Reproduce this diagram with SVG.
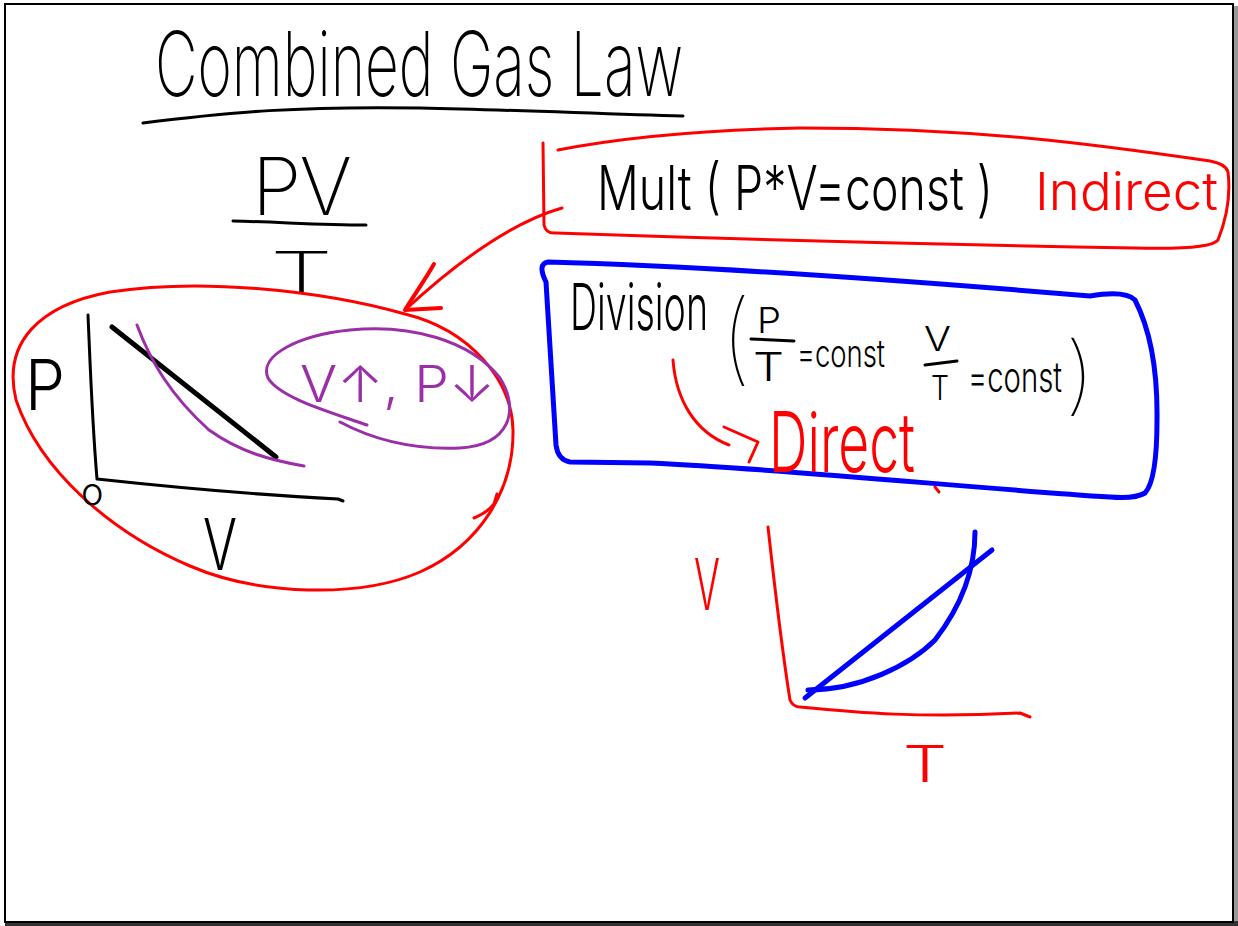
<svg xmlns="http://www.w3.org/2000/svg" width="1238" height="926" viewBox="0 0 1238 926">
<defs>
<style>
.hw{font-family:Inter,"Open Sans","DejaVu Sans",sans-serif;font-weight:200}
.lt{font-weight:300}
.th{font-weight:100}
.k{fill:#000}.r{fill:#ff0000}.b{fill:#0000ff}.p{fill:#9a2fa8}
.sk{fill:none;stroke:#000;stroke-width:3;stroke-linecap:round;stroke-linejoin:round}
.sr{fill:none;stroke:#ff0000;stroke-width:3;stroke-linecap:round;stroke-linejoin:round}
.sb{fill:none;stroke:#0000ff;stroke-width:5;stroke-linecap:round;stroke-linejoin:round}
.sp{fill:none;stroke:#9a2fa8;stroke-width:3;stroke-linecap:round;stroke-linejoin:round}
</style>
</defs>
<rect x="0" y="0" width="1238" height="926" fill="#ffffff"/>
<g id="frame">
<rect x="1233" y="6" width="5" height="920" fill="#9a9a9a"/>
<rect x="5" y="921" width="1233" height="5" fill="#333333"/>
<rect x="5" y="4" width="1228" height="918" fill="#ffffff" stroke="#000" stroke-width="2"/>
</g>
<g id="title">
<text class="hw k" x="155" y="96" font-size="90" textLength="528" lengthAdjust="spacingAndGlyphs">Combined Gas Law</text>
<path class="sk" d="M143 123 C230 112 300 106 420 108 C520 110 600 114 683 116"/>
</g>
<g id="formula">
<text class="hw k" x="252" y="215" font-size="80" textLength="100" lengthAdjust="spacing">PV</text>
<path class="sk" d="M233 221 C280 222 320 225 366 225"/>
<text class="hw k" x="270" y="292" font-size="56" textLength="63" lengthAdjust="spacingAndGlyphs">T</text>
</g>
<g id="pv-graph">
<path class="sr" d="M405 314 C470 330 512 380 513 430 C514 490 480 545 420 572 C360 598 260 596 190 566 C110 532 40 470 16 400 C2 342 40 305 110 292 C200 278 320 290 405 314"/>
<path class="sr" d="M474 518 Q488 512 494 504 L497 494"/>
<path class="sk" d="M88 315 C90 360 92 420 97 479 C180 488 260 495 338 499 L343 501"/>
<path fill="none" stroke="#000" stroke-width="5" stroke-linecap="round" d="M112 327 L276 457"/>
<path class="sp" d="M137 325 C150 360 170 395 209 430 C240 452 270 460 304 466"/>
<text class="hw lt k" x="25" y="410" font-size="70" textLength="40" lengthAdjust="spacingAndGlyphs">P</text>
<text class="hw lt k" x="81" y="505" font-size="38">o</text>
<text class="hw lt k" x="203" y="570" font-size="72" textLength="34" lengthAdjust="spacingAndGlyphs">V</text>
<path class="sp" d="M367 425 C330 412 280 398 268 378 C258 355 300 335 350 330 C410 324 470 340 500 378 C520 410 510 445 460 448 C410 450 370 438 340 422"/>
<text class="hw lt p" x="300" y="402" font-size="50" textLength="195" lengthAdjust="spacingAndGlyphs">V↑, P↓</text>
</g>
<g id="mult-box">
<path class="sr" d="M543 143 L544 225 Q546 234 556 233 C700 238 900 244 1135 248 Q1210 250 1218 240 Q1232 205 1228 172 Q1226 164 1210 161 C1100 145 980 128 800 128 C700 130 620 138 558 150"/>
<text class="hw lt k" font-size="47" transform="translate(597,210) scale(1,1.3)" x="0" y="0" textLength="396" lengthAdjust="spacingAndGlyphs">Mult ( P*V=const )</text>
<text class="hw lt r" x="1035" y="210" font-size="52" textLength="183" lengthAdjust="spacingAndGlyphs">Indirect</text>
</g>
<g id="connectors">
<path class="sr" d="M562 208 C520 220 470 250 405 310"/>
<path fill="none" stroke="#ff0000" stroke-width="4" stroke-linecap="round" stroke-linejoin="round" d="M434 264 C425 280 414 295 405 310 L441 308"/>
<path class="sr" d="M673 360 C676 400 695 432 729 445"/>
<path class="sr" d="M724 427 L758 442 L749 462"/>
</g>
<g id="division-box">
<path class="sb" d="M546 282 Q537 264 548 262 C700 266 900 280 1090 296 Q1125 290 1135 300 Q1158 345 1157 420 Q1157 480 1145 493 Q1135 499 1110 497 C980 489 800 470 650 463 L570 462 Q558 460 556 445 L546 282"/>
<text class="hw lt k" font-size="38" transform="translate(570,330) scale(1,1.7)" x="0" y="0" textLength="138" lengthAdjust="spacingAndGlyphs">Division</text>
<text class="hw th k" x="721" y="372" font-size="100" textLength="30" lengthAdjust="spacingAndGlyphs">(</text>
<text class="hw lt k" x="757" y="333" font-size="36" textLength="24" lengthAdjust="spacingAndGlyphs">P</text>
<path class="sk" d="M751 339 L794 341"/>
<text class="hw lt k" x="753" y="381" font-size="40" textLength="31" lengthAdjust="spacingAndGlyphs">T</text>
<text class="hw lt k" font-size="28" transform="translate(797,367) scale(1,1.35)" x="0" y="0" textLength="88" lengthAdjust="spacingAndGlyphs">=const</text>
<text class="hw lt k" x="924" y="351" font-size="34" textLength="27" lengthAdjust="spacingAndGlyphs">V</text>
<path class="sk" d="M925 365 L957 361"/>
<text class="hw lt k" x="931" y="400" font-size="34" textLength="18" lengthAdjust="spacingAndGlyphs">T</text>
<text class="hw lt k" font-size="30" transform="translate(968,392) scale(1,1.4)" x="0" y="0" textLength="94" lengthAdjust="spacingAndGlyphs">=const</text>
<text class="hw th k" x="1064" y="404" font-size="86" textLength="32" lengthAdjust="spacingAndGlyphs">)</text>
<text class="hw lt r" font-size="52" transform="translate(769,472) scale(1,1.6)" x="0" y="0" textLength="146" lengthAdjust="spacingAndGlyphs">Direct</text>
<path class="sr" d="M935 487 L939 492"/>
</g>
<g id="vt-graph">
<path class="sr" d="M768 527 C775 590 782 650 790 700 Q793 707 800 707 C860 713 920 718 1020 713 L1030 717"/>
<text class="hw lt r" x="694" y="610" font-size="72" textLength="26" lengthAdjust="spacingAndGlyphs">V</text>
<text class="hw lt r" x="903" y="782" font-size="50" textLength="44" lengthAdjust="spacingAndGlyphs">T</text>
<path class="sb" stroke-width="6" d="M805 698 L992 550"/>
<path class="sb" d="M808 690 C860 690 910 665 935 640 C962 605 975 570 975 532"/>
</g>
</svg>
